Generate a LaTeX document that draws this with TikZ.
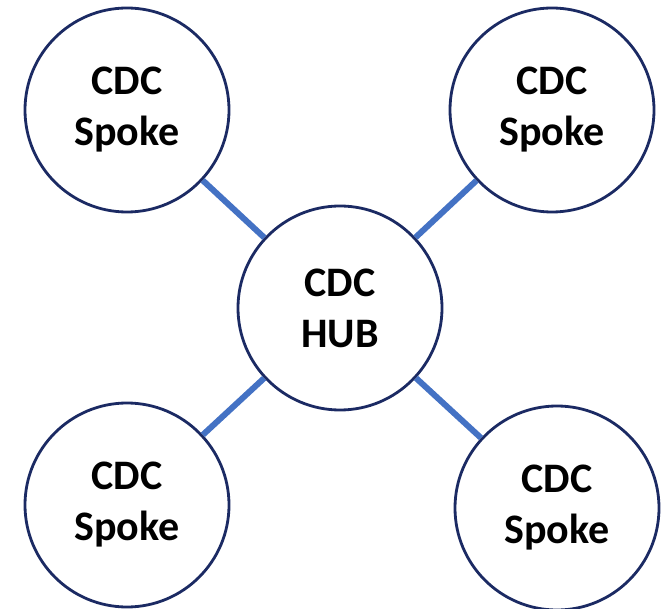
\documentclass[tikz,border=0pt]{standalone}
\usepackage{fontspec}
\setmainfont{Carlito}
\definecolor{navy}{HTML}{1B2A63}
\definecolor{linkblue}{HTML}{4472C4}
\tikzset{
  cdc/.style={circle,draw=navy,line width=2.8pt,fill=white,minimum size=204pt,inner sep=0pt,
    align=center,font=\fontsize{42}{51}\selectfont\bfseries},
  link/.style={linkblue,line width=6pt}
}
\begin{document}
\begin{tikzpicture}[x=1pt,y=-1pt]
	\useasboundingbox (0,0) rectangle (661,609);
	\node[cdc] (hub) at (340,308) {CDC\\HUB};
	\node[cdc] (tl) at (127,110) {CDC\\Spoke};
	\node[cdc] (tr) at (552,110) {CDC\\Spoke};
	\node[cdc] (bl) at (127,505) {CDC\\Spoke};
	\node[cdc] (br) at (557,508) {CDC\\Spoke};
	% spokes to the hub
	\foreach \S in {tl,tr,bl,br} {
		\draw[link] (\S) -- (hub);}
\end{tikzpicture}
\end{document}
